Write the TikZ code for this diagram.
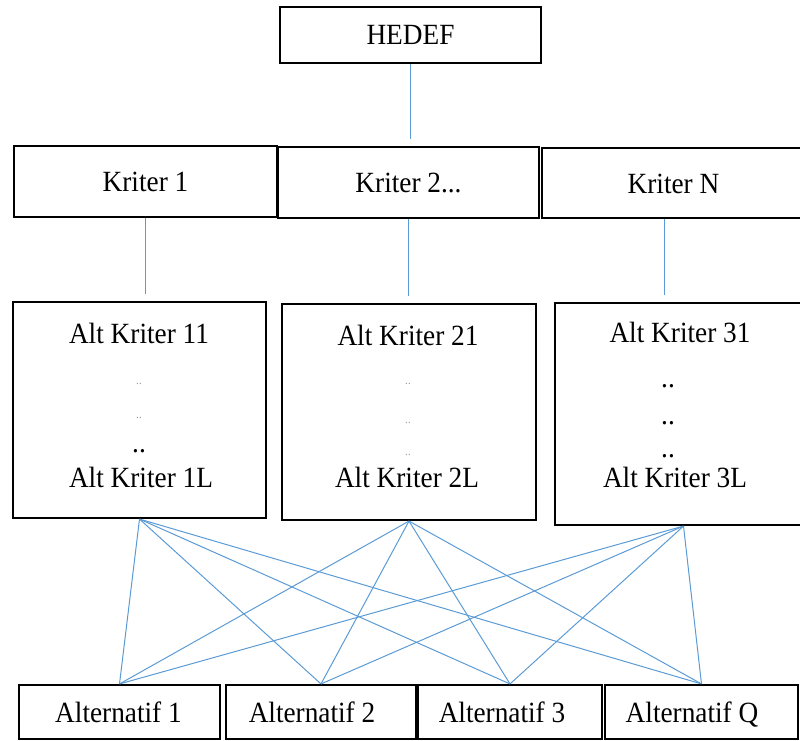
\documentclass[tikz,border=0pt]{standalone}
\usepackage{fontspec}
\setmainfont{Liberation Serif}[FakeStretch=0.93]
\usetikzlibrary{positioning,calc}
\definecolor{LinkBlue}{RGB}{91,155,213}

\begin{document}
\begin{tikzpicture}[x=0.75pt, y=-0.75pt, font=\fontsize{22}{26}\selectfont, every node/.style={align=center}]
\tikzset{
  box/.style={draw, line width=1.6pt, inner sep=0pt},
  altbox/.style={box, minimum height=40.5pt},
  txt/.style={anchor=base, inner sep=0pt},
  smalldots/.style={anchor=base, inner sep=0pt, font=\fontsize{9}{10}\selectfont, text=gray!80},
  link/.style={LinkBlue, line width=0.75pt}
}
  \useasboundingbox (0,0) rectangle (800,740);
  \node[box, minimum width=195.75pt, minimum height=42pt] (goal) at (410.5,35) {HEDEF};
  \node[box, minimum width=197pt, minimum height=53pt] (k1) at (145.5,181.5) {Kriter 1};
  \node[box, minimum width=196pt, minimum height=53pt] (k2) at (408.5,182.5) {Kriter 2...};
  \node[box, minimum width=202.5pt, minimum height=53pt] (kn) at (677,183) {};
  \node[txt] (knt) at (673.5,193) {Kriter N};
  \node[box, minimum width=190pt, minimum height=162pt] (ak1) at (139.5,410) {};
  \node[box, minimum width=190.5pt, minimum height=162pt] (ak2) at (409,412) {};
  \node[box, minimum width=192.75pt, minimum height=166.5pt] (ak3) at (683.5,414) {};
  \node[altbox, minimum width=150.75pt] (alt1) at (119.5,712) {};
  \node[altbox, minimum width=142.5pt] (alt2) at (321,712) {};
  \node[altbox, minimum width=138pt] (alt3) at (510,712) {};
  \node[altbox, minimum width=144.75pt] (altq) at (701.5,712) {};
  \node[txt] (alt1t) at (118.5,722) {Alternatif 1};
  \node[txt] (alt2t) at (312,722) {Alternatif 2};
  \node[txt] (alt3t) at (502,722) {Alternatif 3};
  \node[txt] (altqt) at (692,722) {Alternatif Q};
  \node[txt] (t11) at (139,343) {Alt Kriter 11};
  \node[smalldots] (d11) at (139,384) {..};
  \node[smalldots] (d12) at (139,418) {..};
  \node[txt] (d13) at (139,452) {..};
  \node[txt] (t1l) at (141,487) {Alt Kriter 1L};
  \node[txt] (t21) at (408,345) {Alt Kriter 21};
  \node[smalldots] (d21) at (408,384) {..};
  \node[smalldots] (d22) at (408,423) {..};
  \node[smalldots] (d23) at (408,455) {..};
  \node[txt] (t2l) at (407,487) {Alt Kriter 2L};
  \node[txt] (t31) at (680,342) {Alt Kriter 31};
  \node[txt] (d31) at (668,387) {..};
  \node[txt] (d32) at (668,424) {..};
  \node[txt] (d33) at (668,457) {..};
  \node[txt] (t3l) at (675,487) {Alt Kriter 3L};
  \draw[link, shorten >=5pt] (goal.south) -- (goal.south |- k2.north);
  \draw[link, shorten >=5pt] (k1.south) -- (k1.south |- ak1.north);
  \draw[link, shorten >=5pt] (k2.south) -- (k2.south |- ak2.north);
  \draw[link, shorten >=5pt] ([xshift=-9.75pt]kn.south) -- ([xshift=-9.75pt]kn.south |- ak3.north);
  \foreach \a in {ak1,ak2,ak3}
    \foreach \b in {alt1,alt2,alt3,altq}
      \draw[link] (\a.south) -- (\b.north);
\end{tikzpicture}
\end{document}
